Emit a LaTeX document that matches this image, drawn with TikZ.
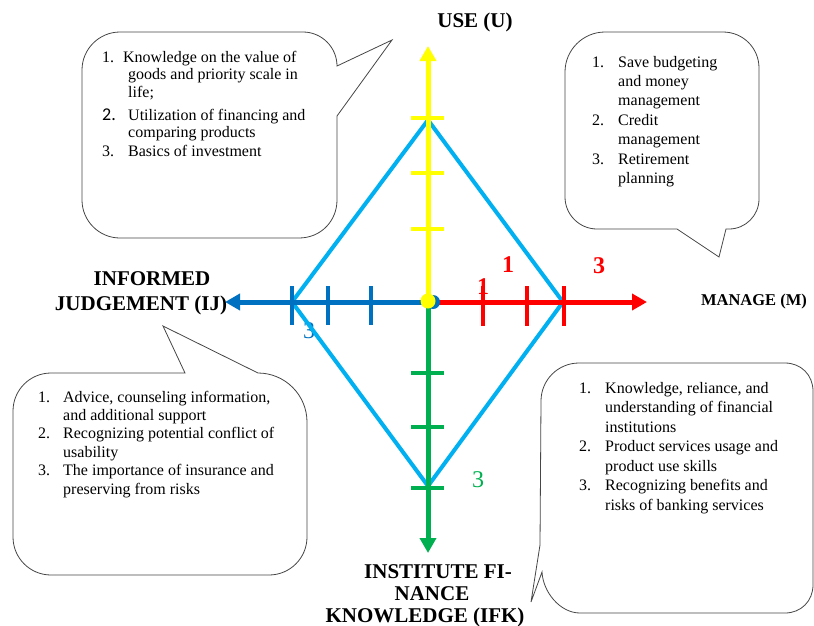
\documentclass[tikz,border=0pt]{standalone}
\usepackage{fontspec}
\setmainfont{Liberation Serif}
\newfontfamily\calib{Carlito}
\usetikzlibrary{arrows.meta}
\definecolor{axyellow}{RGB}{255,255,0}
\definecolor{axred}{RGB}{255,0,0}
\definecolor{axgreen}{RGB}{0,176,80}
\definecolor{axblue}{RGB}{0,112,192}
\definecolor{diamblue}{RGB}{0,176,240}
\definecolor{bubbleline}{RGB}{70,70,70}
\begin{document}
\begin{tikzpicture}[x=1pt,y=-1pt,
  axis/.style={line width=5pt,-{Triangle[length=15pt,width=16pt]}},
  tickmark/.style={line width=4pt},
  diam/.style={draw=diamblue,line width=4pt,line join=miter},
  bubble/.style={draw=bubbleline,line width=0.8pt,fill=white,line join=miter},
  txt/.style={anchor=base west,inner sep=0pt},
  head/.style={anchor=base,inner sep=0pt},
  numlab/.style={anchor=base,inner sep=0pt,font=\fontsize{24}{24}\selectfont\bfseries}
]
\useasboundingbox (0,0) rectangle (814,625);

% speech bubbles
\draw[bubble] (120,32) -- (303,32) .. controls (321.7,32) and (337,47.3) .. (337,66)
  -- (392,40) -- (337,116) -- (337,200) .. controls (337,220.9) and (320.9,238) .. (299,238)
  -- (120,238) .. controls (99.1,238) and (82,220.9) .. (82,200)
  -- (82,70) .. controls (82,49.1) and (99.1,32) .. (120,32) -- cycle;
\draw[bubble] (605,32) -- (723,32) .. controls (743,32) and (759,48) .. (759,68)
  -- (759,199) .. controls (759,215.5) and (745.5,229) .. (729,229)
  -- (726,229) -- (719,257) -- (677,229) -- (597,229)
  .. controls (579.4,229) and (565,214.6) .. (565,197)
  -- (565,72) .. controls (565,50) and (583,32) .. (605,32) -- cycle;
\draw[bubble] (51,373) -- (185,373) -- (163,326) -- (258,373)
  .. controls (285,373) and (307,395) .. (307,422)
  -- (307,537) .. controls (307,558) and (290,575) .. (269,575)
  -- (51,575) .. controls (30,575) and (13,558) .. (13,537)
  -- (13,411) .. controls (13,390) and (30,373) .. (51,373) -- cycle;
\draw[bubble] (579,363) -- (785,363) .. controls (801,363) and (813,375) .. (813,391)
  -- (813,585) .. controls (813,601) and (801,613) .. (785,613)
  -- (580,613) .. controls (560,613) and (543,592) .. (542,572)
  -- (531,602) -- (540,545) -- (541,401)
  .. controls (541,380) and (558,363) .. (579,363) -- cycle;

% bubble texts
\node[txt] (t1) at (102,62) {\parbox[t]{240pt}{\raggedright\fontsize{16}{17.5}\selectfont
\makebox[21pt][l]{1.}Knowledge on the value of\\
\hspace*{26pt}goods and priority scale in\\
\hspace*{26pt}life;\\[5.5pt]
\makebox[26pt][l]{\calib\fontsize{18}{17.5}\selectfont 2.}Utilization of financing and\\
\hspace*{26pt}comparing products\\[1pt]
\makebox[26pt][l]{3.}Basics of investment}};

\node[txt] (t2) at (592,67) {\parbox[t]{200pt}{\raggedright\fontsize{16}{19.4}\selectfont
\makebox[26pt][l]{1.}Save budgeting\\
\hspace*{26pt}and money\\
\hspace*{26pt}management\\
\makebox[26pt][l]{2.}Credit\\
\hspace*{26pt}management\\
\makebox[26pt][l]{3.}Retirement\\
\hspace*{26pt}planning}};

\node[txt] (t3) at (38,402) {\parbox[t]{300pt}{\raggedright\fontsize{16}{18.4}\selectfont
\makebox[25pt][l]{1.}Advice, counseling information,\\
\hspace*{25pt}and additional support\\
\makebox[25pt][l]{2.}Recognizing potential conflict of\\
\hspace*{25pt}usability\\
\makebox[25pt][l]{3.}The importance of insurance and\\
\hspace*{25pt}preserving from risks}};

\node[txt] (t4) at (579,393) {\parbox[t]{260pt}{\raggedright\fontsize{16}{19.5}\selectfont
\makebox[26pt][l]{1.}Knowledge, reliance, and\\
\hspace*{26pt}understanding of financial\\
\hspace*{26pt}institutions\\
\makebox[26pt][l]{2.}Product services usage and\\
\hspace*{26pt}product use skills\\
\makebox[26pt][l]{3.}Recognizing benefits and\\
\hspace*{26pt}risks of banking services}};

% scale numbers (partly hidden by the axes)
\node[numlab,text=axred] (r1a) at (508,272) {1};
\node[numlab,text=axred] (r1b) at (483,294) {1};
\node[numlab,text=axred] (r3) at (599,273) {3};
\node[numlab,text=axblue,font=\fontsize{24}{24}\selectfont] (b3) at (309,338) {3};
\node[numlab,text=axgreen,font=\fontsize{24}{24}\selectfont] (g3) at (478,487) {3};

% diamond
\coordinate (dt) at (428,120);
\coordinate (dr) at (563,302);
\coordinate (db) at (428,486);
\coordinate (dl) at (292,302);
\draw[diam] (dt) -- (dr) -- (db) -- (dl) -- cycle;

% axes
\coordinate (c) at (428,302);
\coordinate (ut) at (428,46);
\coordinate (mt) at (647,302);
\coordinate (ijt) at (225,302);
\coordinate (ft) at (428,553);
\draw[axis,draw=axblue,fill=axblue] (c) -- (ijt);
\draw[axis,draw=axred,fill=axred] (c) -- (mt);
\draw[axis,draw=axgreen,fill=axgreen] (c) -- (ft);
\draw[axis,draw=axyellow,fill=axyellow] (c) -- (ut);

% ticks
\foreach \yy in {118,173,229} \draw[tickmark,axyellow] (411,\yy) -- (444,\yy);
\foreach \yy in {373,427,488} \draw[tickmark,axgreen] (411,\yy) -- (444,\yy);
\foreach \xx in {292,328,371} \draw[tickmark,axblue] (\xx,286) -- (\xx,325);
\foreach \xx in {483,527,564} \draw[tickmark,axred] (\xx,286) -- (\xx,326);

% centre
\fill[axblue] (433,302) circle (7pt);
\fill[axyellow] (428,301) circle (7.5pt);

% axis titles
\node[head] (use) at (475,27) {\fontsize{21}{21}\selectfont\bfseries USE (U)};
\node[head] (ij) at (141,285) {\parbox[t]{220pt}{\centering\fontsize{21}{25}\selectfont\bfseries\hspace*{22pt}INFORMED\\JUDGEMENT (IJ)}};
\node[head] (man) at (754,305) {\fontsize{16.5}{16.5}\selectfont\bfseries MANAGE (M)};
\node[head] (ifk) at (432,578) {\parbox[t]{240pt}{\centering\fontsize{21}{22}\selectfont\bfseries\hspace*{12pt}INSTITUTE FI-\\NANCE\\KNOWLEDGE (IFK)\hspace*{14pt}}};
\end{tikzpicture}
\end{document}
